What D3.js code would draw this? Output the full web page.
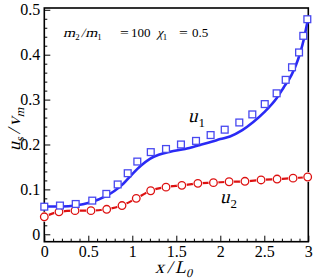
<!DOCTYPE html>
<html><head><meta charset="utf-8">
<script src="https://cdn.jsdelivr.net/npm/d3@7"></script>
<style>
html,body{margin:0;padding:0;background:#fff;}
svg{display:block;}
</style></head>
<body>
<svg id="c" width="315" height="280"></svg>
<script>
// u1 markers (squares)
const u1X = [0,0.178,0.357,0.545,0.705,0.834,0.948,1.057,1.21,1.383,1.553,1.724,1.89,2.05,2.216,2.364,2.505,2.64,2.743,2.815,2.895,2.943,2.989];
const u1Y = [0.0615,0.064,0.0675,0.075,0.09,0.111,0.136,0.162,0.183,0.19,0.2,0.208,0.221,0.233,0.249,0.267,0.29,0.314,0.344,0.372,0.405,0.442,0.479];
// u1 solid curve
const u1LineX = [0,0.2,0.35,0.52,0.7,0.8,0.9,1.0,1.1,1.2,1.3,1.43,1.6,1.77,1.9,2.0,2.11,2.25,2.375,2.5,2.64,2.72,2.81,2.86,2.906,2.95,2.99,3.0];
const u1LineY = [0.062,0.062,0.064,0.071,0.085,0.097,0.113,0.134,0.153,0.168,0.177,0.184,0.19,0.199,0.206,0.212,0.218,0.232,0.25,0.272,0.303,0.327,0.355,0.377,0.403,0.435,0.473,0.482];
// u2 markers (circles) and line
const u2X = [0,0.167,0.349,0.53,0.709,0.883,1.045,1.209,1.383,1.563,1.745,1.922,2.1,2.28,2.463,2.645,2.827,2.993];
const u2Y = [0.039,0.050,0.0526,0.0526,0.0557,0.064,0.080,0.097,0.105,0.109,0.1135,0.115,0.117,0.118,0.121,0.123,0.125,0.1276];
const xTicks = [0,0.5,1,1.5,2,2.5,3];
const xTickLabels = ["0","0.5","1","1.5","2","2.5","3"];
const yTicks = [0,0.1,0.2,0.3,0.4,0.5];
const yTickLabels = ["0","0.1","0.2","0.3","0.4","0.5"];

const SERIF = "Liberation Serif";
const svg = d3.select("#c");
const L=44.3, R=308.3, T=8, B=241.7;
const x = d3.scaleLinear().domain([0,3]).range([L,R]);
const y = d3.scaleLinear().domain([-0.0165,0.504]).range([B,T]);

const blue="#2a2af5", red="#dd1111";

const xMinor = d3.range(0,3.0001,0.1).filter(v=>Math.abs(v*2-Math.round(v*2))>1e-6);
const yMinor = d3.range(0,0.5001,0.02).filter(v=>Math.abs(v*10-Math.round(v*10))>1e-6);

const xAxis = svg.append("g").attr("transform",`translate(0,${B})`)
  .call(d3.axisBottom(x).tickValues(xTicks).tickFormat((d,i)=>xTickLabels[i]).tickSizeInner(-6).tickSizeOuter(0).tickPadding(4));
const yAxis = svg.append("g").attr("transform",`translate(${L},0)`)
  .call(d3.axisLeft(y).tickValues(yTicks).tickFormat((d,i)=>yTickLabels[i]).tickSizeInner(-6).tickSizeOuter(0).tickPadding(4));
svg.append("g").attr("transform",`translate(0,${B})`)
  .call(d3.axisBottom(x).tickValues(xMinor).tickFormat("").tickSizeInner(-3).tickSizeOuter(0))
  .select(".domain").remove();
svg.append("g").attr("transform",`translate(${L},0)`)
  .call(d3.axisLeft(y).tickValues(yMinor).tickFormat("").tickSizeInner(-3).tickSizeOuter(0))
  .select(".domain").remove();
svg.selectAll("g").attr("font-family",SERIF);
svg.selectAll(".tick line").attr("stroke","#000").attr("stroke-width",1);
xAxis.selectAll("text").attr("font-size",16).attr("fill","#000");
yAxis.selectAll("text").attr("font-size",16).attr("fill","#000");
svg.selectAll(".domain").remove();

svg.append("rect").attr("x",L).attr("y",T).attr("width",R-L).attr("height",B-T)
  .attr("fill","none").attr("stroke","#000").attr("stroke-width",1.6);

const u1Line = u1LineX.map((v,i)=>[v,u1LineY[i]]);
svg.append("path").datum(u1Line)
  .attr("d",d3.line().x(d=>x(d[0])).y(d=>y(d[1])).curve(d3.curveMonotoneX))
  .attr("fill","none").attr("stroke",blue).attr("stroke-width",2.6);
const u2 = u2X.map((v,i)=>[v,u2Y[i]]);
svg.append("path").datum(u2)
  .attr("d",d3.line().x(d=>x(d[0])).y(d=>y(d[1])).curve(d3.curveMonotoneX))
  .attr("fill","none").attr("stroke",red).attr("stroke-width",2.2);
// white halo behind circles gives the small gaps in the red line
svg.append("g").selectAll("circle").data(u2).join("circle")
  .attr("cx",d=>x(d[0])).attr("cy",d=>y(d[1])).attr("r",5)
  .attr("fill","#fff").attr("stroke","none");
svg.append("g").selectAll("circle").data(u2).join("circle")
  .attr("cx",d=>x(d[0])).attr("cy",d=>y(d[1])).attr("r",3.8)
  .attr("fill","#fff").attr("stroke",red).attr("stroke-width",1.3);
const u1 = u1X.map((v,i)=>[v,u1Y[i]]);
svg.append("g").selectAll("rect").data(u1).join("rect")
  .attr("x",d=>x(d[0])-3.4).attr("y",d=>y(d[1])-3.4).attr("width",6.8).attr("height",6.8)
  .attr("fill","#fff").attr("stroke","#4848f0").attr("stroke-width",1.3);

// math text built from pieces; italic faked by skewing upright serif glyphs
function mathText(parent,xp,yp,parts,size){
  const g = parent.append("g").attr("transform",`translate(${xp},${yp})`);
  let cx = 0;
  parts.forEach(p=>{
    const fs = p.sub ? size*0.68 : size;
    const dy = p.sub ? size*0.24 : (p.dy||0);
    const sx = p.sx || 1;
    cx += (p.pre||0);
    const t = g.append("text").attr("font-family",SERIF).attr("font-size",fs).attr("fill","#000")
      .attr("transform",`translate(${cx},${dy})` + (p.i ? " skewX(-14)" : "") + (sx!==1 ? ` scale(${sx},1)` : "")).text(p.t);
    cx += t.node().getComputedTextLength()*sx + (p.post||0);
  });
  return g;
}
mathText(svg,63,37,[{t:"m",i:1,sx:1.2},{t:"2",sub:1,post:1},{t:"/",i:1,pre:0.5,post:0.5},{t:"m",i:1,sx:1.2},{t:"1",sub:1}],13);
mathText(svg,120,37,[{t:"=",sx:1.2}],13);
mathText(svg,131,37,[{t:"100"}],13);
mathText(svg,157,37,[{t:"χ",i:1},{t:"1",sub:1}],13);
mathText(svg,179,37,[{t:"=",sx:1.2}],13);
mathText(svg,192,37,[{t:"0.5"}],13);

mathText(svg,188,122,[{t:"u",i:1,post:1},{t:"1",sub:1}],19);
mathText(svg,220,203,[{t:"u",i:1,post:1},{t:"2",sub:1}],19);

mathText(svg,155,273,[{t:"x",i:1,post:3},{t:"/",i:1,post:3},{t:"L",i:1},{t:"0",i:1,sub:1}],18);
const yl = svg.append("g").attr("transform","translate(20,151) rotate(-90)");
mathText(yl,0,0,[{t:"u",i:1},{t:"s",i:1,sub:1,post:3},{t:"/",i:1,post:3},{t:"v",i:1},{t:"m",i:1,sub:1}],18);
</script>
</body></html>
